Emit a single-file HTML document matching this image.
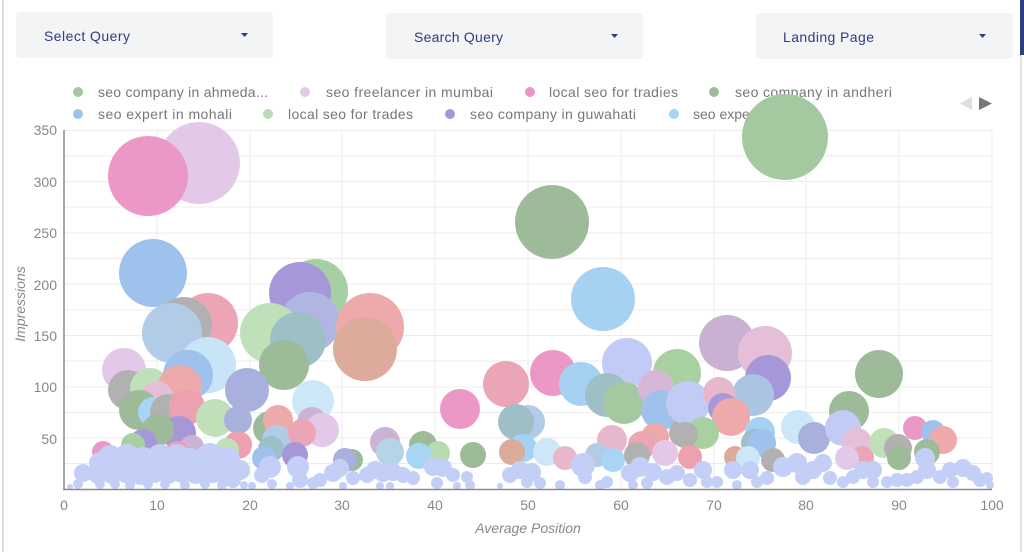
<!DOCTYPE html>
<html><head><meta charset="utf-8"><style>
html,body{margin:0;padding:0;background:#fff;width:1024px;height:552px;overflow:hidden;font-family:"Liberation Sans",sans-serif;}
svg{position:absolute;left:0;top:0;}
</style></head><body>
<svg width="1024" height="552" viewBox="0 0 1024 552" xmlns="http://www.w3.org/2000/svg" font-family="Liberation Sans, sans-serif">
<rect x="0" y="0" width="1024" height="552" fill="#fff"/>
<line x1="3" y1="0" x2="3" y2="552" stroke="#dcdcdc" stroke-width="2"/>
<line x1="1021" y1="55" x2="1021" y2="552" stroke="#e2e2e2" stroke-width="2"/>
<rect x="1020" y="0" width="4" height="55" fill="#2e3d80"/>
<!-- dropdowns -->
<rect x="16" y="12" width="257" height="46" rx="4" fill="#f3f4f6"/>
<rect x="386" y="13" width="257" height="46" rx="4" fill="#f3f4f6"/>
<rect x="756" y="13" width="257" height="46" rx="4" fill="#f3f4f6"/>
<g fill="#2e3d80" font-size="14">
<text x="44" y="41" textLength="86">Select Query</text>
<text x="414" y="42" textLength="89">Search Query</text>
<text x="783" y="42" textLength="91">Landing Page</text>
<path d="M241 33 h7 l-3.5 4z"/><path d="M611 34 h7 l-3.5 4z"/><path d="M979 34 h7 l-3.5 4z"/>
</g>
<!-- gridlines -->
<g stroke="#ececec" stroke-width="1">
<line x1="64" y1="130.5" x2="992" y2="130.5"/><line x1="64" y1="156" x2="992" y2="156"/><line x1="64" y1="181.5" x2="992" y2="181.5"/><line x1="64" y1="207" x2="992" y2="207"/><line x1="64" y1="233" x2="992" y2="233"/><line x1="64" y1="258.5" x2="992" y2="258.5"/><line x1="64" y1="284" x2="992" y2="284"/><line x1="64" y1="310" x2="992" y2="310"/><line x1="64" y1="335.5" x2="992" y2="335.5"/><line x1="64" y1="361" x2="992" y2="361"/><line x1="64" y1="387" x2="992" y2="387"/><line x1="64" y1="412.5" x2="992" y2="412.5"/><line x1="64" y1="438" x2="992" y2="438"/><line x1="64" y1="463.5" x2="992" y2="463.5"/>
<line x1="157" y1="130" x2="157" y2="489"/><line x1="250" y1="130" x2="250" y2="489"/><line x1="342" y1="130" x2="342" y2="489"/><line x1="435" y1="130" x2="435" y2="489"/><line x1="528" y1="130" x2="528" y2="489"/><line x1="621" y1="130" x2="621" y2="489"/><line x1="714" y1="130" x2="714" y2="489"/><line x1="806" y1="130" x2="806" y2="489"/><line x1="899" y1="130" x2="899" y2="489"/><line x1="992" y1="130" x2="992" y2="489"/>
</g>
<!-- legend -->
<g font-size="14" fill="#777">
<circle cx="78" cy="92" r="5" fill="#a4c9a1"/><text x="98" y="97" textLength="170">seo company in ahmeda...</text>
<circle cx="305" cy="92" r="5" fill="#e3c9e8"/><text x="326" y="97" textLength="167">seo freelancer in mumbai</text>
<circle cx="530" cy="92" r="5" fill="#ec95c4"/><text x="549" y="97" textLength="129">local seo for tradies</text>
<circle cx="714" cy="92" r="5" fill="#9dbb99"/><text x="735" y="97" textLength="157">seo company in andheri</text>
<circle cx="78" cy="114" r="5" fill="#9fc2ec"/><text x="98" y="119" textLength="134">seo expert in mohali</text>
<circle cx="268" cy="114" r="5" fill="#b9deb3"/><text x="288" y="119" textLength="125">local seo for trades</text>
<circle cx="450" cy="114" r="5" fill="#a698d8"/><text x="470" y="119" textLength="166">seo company in guwahati</text>
<circle cx="674" cy="114" r="5" fill="#a8d4f4"/><text x="693" y="119">seo expert in delhi</text>
</g>
<path d="M972 97 L960 103.5 L972 110z" fill="#dedede"/>
<path d="M979 97 L992 103.5 L979 110z" fill="#777"/>
<!-- bubbles -->
<g>
<circle cx="199" cy="163" r="41" fill="#e3c9e8"/>
<circle cx="148" cy="176" r="40" fill="#ec98c6"/>
<circle cx="785" cy="137" r="43" fill="#a4c9a1"/>
<circle cx="552" cy="222" r="37" fill="#9fba9b"/>
<circle cx="603" cy="299" r="32" fill="#a5d2f3"/>
<circle cx="153" cy="273" r="34" fill="#9fc2ec"/>
<circle cx="316" cy="291" r="32" fill="#a8cea3"/>
<circle cx="300" cy="293" r="31" fill="#a698d8"/>
<circle cx="310" cy="322" r="30" fill="#b0b6e2"/>
<circle cx="370" cy="327" r="34" fill="#eeaaaa"/>
<circle cx="365" cy="349" r="32" fill="#dcab9b"/>
<circle cx="208" cy="323" r="30" fill="#eca5b5"/>
<circle cx="184" cy="325" r="28" fill="#b1b1b1"/>
<circle cx="172" cy="333" r="30" fill="#b2cce8"/>
<circle cx="270" cy="333" r="30" fill="#bfe0b9"/>
<circle cx="298" cy="340" r="28" fill="#9dbfc6"/>
<circle cx="284" cy="365" r="25" fill="#9dbb99"/>
<circle cx="208" cy="365" r="28" fill="#c8e4f7"/>
<circle cx="188" cy="375" r="25" fill="#9fc2ec"/>
<circle cx="124" cy="370" r="22" fill="#e3c9e8"/>
<circle cx="128" cy="390" r="20" fill="#b1b1b1"/>
<circle cx="150" cy="388" r="20" fill="#bfe0b9"/>
<circle cx="180" cy="387" r="22" fill="#eeaaaa"/>
<circle cx="247" cy="390" r="22" fill="#a8b0dd"/>
<circle cx="313" cy="401" r="21" fill="#cce7f8"/>
<circle cx="312" cy="422" r="15" fill="#cbb3d6"/>
<circle cx="322" cy="430" r="17" fill="#e3c9e8"/>
<circle cx="157" cy="397" r="16" fill="#e5bfd9"/>
<circle cx="139" cy="410" r="20" fill="#9dbb99"/>
<circle cx="153" cy="412" r="15" fill="#a9d5f5"/>
<circle cx="168" cy="412" r="18" fill="#b1b1b1"/>
<circle cx="187" cy="407" r="18" fill="#eda0b0"/>
<circle cx="215" cy="418" r="19" fill="#bfe0b9"/>
<circle cx="238" cy="420" r="14" fill="#a8b0dd"/>
<circle cx="270" cy="428" r="17" fill="#9dbb99"/>
<circle cx="278" cy="420" r="15" fill="#eeaaaa"/>
<circle cx="277" cy="440" r="15" fill="#b2cce8"/>
<circle cx="302" cy="433" r="14" fill="#eca5b5"/>
<circle cx="179" cy="433" r="17" fill="#a698d8"/>
<circle cx="158" cy="430" r="16" fill="#9dbb99"/>
<circle cx="143" cy="443" r="14" fill="#a698d8"/>
<circle cx="133" cy="445" r="12" fill="#a8d0a0"/>
<circle cx="103" cy="452" r="11" fill="#ec98c6"/>
<circle cx="192" cy="447" r="12" fill="#cbb3d6"/>
<circle cx="177" cy="453" r="12" fill="#eda0b0"/>
<circle cx="238" cy="445" r="14" fill="#eda0b0"/>
<circle cx="227" cy="450" r="12" fill="#bfe0b9"/>
<circle cx="271" cy="449" r="13" fill="#9dbfc6"/>
<circle cx="295" cy="455" r="13" fill="#a698d8"/>
<circle cx="264" cy="458" r="12" fill="#9fc2ec"/>
<!-- middle -->
<circle cx="460" cy="409" r="20" fill="#ec98c6"/>
<circle cx="506" cy="384" r="23" fill="#eaa5b6"/>
<circle cx="553" cy="373" r="23" fill="#ec98c6"/>
<circle cx="581" cy="384" r="22" fill="#a5d2f3"/>
<circle cx="627" cy="363" r="25" fill="#c2cbf5"/>
<circle cx="677" cy="373" r="24" fill="#a8d0a0"/>
<circle cx="607" cy="395" r="22" fill="#9dbfc5"/>
<circle cx="624" cy="403" r="21" fill="#a4c9a1"/>
<circle cx="656" cy="388" r="18" fill="#d8b6d8"/>
<circle cx="661" cy="410" r="20" fill="#9fc2ec"/>
<circle cx="528" cy="422" r="17" fill="#b2cce8"/>
<circle cx="516" cy="422" r="18" fill="#9dbfc5"/>
<circle cx="523" cy="448" r="14" fill="#a5d2f3"/>
<circle cx="512" cy="452" r="13" fill="#dcab9b"/>
<circle cx="547" cy="452" r="14" fill="#cce7f8"/>
<circle cx="565" cy="458" r="12" fill="#e7b8cc"/>
<circle cx="385" cy="442" r="15" fill="#cbb3d6"/>
<circle cx="390" cy="452" r="14" fill="#b5d4e8"/>
<circle cx="423" cy="445" r="14" fill="#9dbb99"/>
<circle cx="438" cy="453" r="12" fill="#b7dbb0"/>
<circle cx="419" cy="456" r="13" fill="#a9d5f5"/>
<circle cx="473" cy="455" r="13" fill="#9dbb99"/>
<circle cx="352" cy="460" r="11" fill="#9dbb99"/>
<circle cx="345" cy="460" r="12" fill="#a8b0dd"/>
<circle cx="612" cy="440" r="15" fill="#e7b8cc"/>
<circle cx="597" cy="455" r="12" fill="#b2cce8"/>
<circle cx="613" cy="460" r="12" fill="#a9d5f5"/>
<circle cx="655" cy="437" r="14" fill="#eeaaaa"/>
<circle cx="642" cy="445" r="14" fill="#eca5b5"/>
<circle cx="637" cy="455" r="13" fill="#b1b1b1"/>
<circle cx="665" cy="453" r="13" fill="#e3c9e8"/>
<circle cx="683" cy="433" r="14" fill="#b1b1b1"/>
<!-- right -->
<circle cx="727" cy="343" r="28" fill="#c8b1d3"/>
<circle cx="765" cy="353" r="27" fill="#e5bfd9"/>
<circle cx="688" cy="403" r="22" fill="#c2cbf5"/>
<circle cx="768" cy="378" r="23" fill="#a698d8"/>
<circle cx="753" cy="395" r="21" fill="#aac4e1"/>
<circle cx="719" cy="393" r="16" fill="#e7b8cc"/>
<circle cx="723" cy="408" r="15" fill="#a698d8"/>
<circle cx="731" cy="417" r="19" fill="#eeaaaa"/>
<circle cx="703" cy="433" r="16" fill="#a8d0a0"/>
<circle cx="685" cy="435" r="13" fill="#b1b1b1"/>
<circle cx="690" cy="457" r="12" fill="#eda0b0"/>
<circle cx="760" cy="432" r="15" fill="#a5d2f3"/>
<circle cx="755" cy="443" r="14" fill="#9dbfc5"/>
<circle cx="762" cy="443" r="14" fill="#9fc2ec"/>
<circle cx="735" cy="457" r="11" fill="#dcab9b"/>
<circle cx="748" cy="458" r="12" fill="#cce7f8"/>
<circle cx="773" cy="460" r="12" fill="#b1b1b1"/>
<circle cx="798" cy="427" r="17" fill="#cce7f8"/>
<circle cx="814" cy="438" r="16" fill="#a8b0dd"/>
<circle cx="879" cy="374" r="24" fill="#9dbb99"/>
<circle cx="849" cy="411" r="20" fill="#9dbb99"/>
<circle cx="843" cy="428" r="18" fill="#c2cbf5"/>
<circle cx="857" cy="443" r="15" fill="#e5bfd9"/>
<circle cx="862" cy="458" r="12" fill="#eca5b5"/>
<circle cx="847" cy="458" r="12" fill="#e3c9e8"/>
<circle cx="915" cy="428" r="12" fill="#ec98c6"/>
<circle cx="933" cy="432" r="12" fill="#9fc2ec"/>
<circle cx="943" cy="440" r="14" fill="#eeaaaa"/>
<circle cx="884" cy="443" r="15" fill="#bfe0b9"/>
<circle cx="898" cy="448" r="14" fill="#b1b1b1"/>
<circle cx="899" cy="458" r="12" fill="#9dbb99"/>
<circle cx="927" cy="452" r="13" fill="#9dbb99"/>
</g>
<!-- periwinkle small bubbles -->
<g fill="#c4cff7">
<circle cx="83" cy="473" r="9"/><circle cx="78" cy="484" r="5"/><circle cx="70" cy="487" r="3"/>
<circle cx="100" cy="463" r="11"/><circle cx="110" cy="457" r="12"/><circle cx="127" cy="457" r="13"/><circle cx="143" cy="460" r="13"/><circle cx="160" cy="457" r="13"/><circle cx="177" cy="457" r="13"/><circle cx="190" cy="460" r="12"/><circle cx="210" cy="457" r="14"/><circle cx="227" cy="460" r="13"/><circle cx="240" cy="470" r="10"/>
<circle cx="98" cy="474" r="10"/><circle cx="112" cy="473" r="11"/><circle cx="126" cy="472" r="11"/><circle cx="140" cy="474" r="11"/><circle cx="154" cy="472" r="11"/><circle cx="168" cy="473" r="11"/><circle cx="182" cy="472" r="11"/><circle cx="196" cy="473" r="11"/><circle cx="213" cy="473" r="10"/><circle cx="226" cy="474" r="10"/><circle cx="233" cy="480" r="8"/>
<circle cx="100" cy="484" r="5"/><circle cx="115" cy="484" r="5"/><circle cx="130" cy="485" r="5"/><circle cx="148" cy="484" r="5"/><circle cx="165" cy="484" r="5"/><circle cx="185" cy="485" r="5"/><circle cx="205" cy="484" r="5"/><circle cx="222" cy="485" r="5"/><circle cx="244" cy="485" r="4"/>
<circle cx="252" cy="486" r="4"/><circle cx="262" cy="475" r="8"/><circle cx="270" cy="467" r="11"/><circle cx="272" cy="484" r="5"/>
<circle cx="298" cy="467" r="11"/><circle cx="300" cy="480" r="8"/><circle cx="290" cy="486" r="4"/><circle cx="313" cy="483" r="6"/><circle cx="320" cy="480" r="7"/>
<circle cx="333" cy="473" r="9"/><circle cx="340" cy="468" r="9"/><circle cx="353" cy="478" r="7"/><circle cx="343" cy="486" r="4"/>
<circle cx="367" cy="475" r="8"/><circle cx="375" cy="470" r="9"/><circle cx="383" cy="473" r="9"/><circle cx="380" cy="486" r="4"/><circle cx="390" cy="486" r="4"/>
<circle cx="393" cy="472" r="9"/><circle cx="403" cy="475" r="8"/><circle cx="413" cy="478" r="7"/>
<circle cx="433" cy="467" r="9"/><circle cx="443" cy="468" r="9"/><circle cx="453" cy="475" r="7"/><circle cx="437" cy="483" r="6"/>
<circle cx="467" cy="477" r="6"/><circle cx="470" cy="485" r="5"/><circle cx="457" cy="486" r="4"/>
<circle cx="500" cy="486" r="3"/><circle cx="510" cy="475" r="8"/><circle cx="520" cy="470" r="9"/><circle cx="532" cy="472" r="9"/><circle cx="527" cy="482" r="6"/>
<circle cx="533" cy="472" r="8"/><circle cx="540" cy="483" r="6"/><circle cx="560" cy="485" r="5"/><circle cx="585" cy="477" r="7"/><circle cx="583" cy="465" r="12"/>
<circle cx="607" cy="482" r="6"/><circle cx="600" cy="485" r="5"/>
<circle cx="630" cy="473" r="9"/><circle cx="640" cy="467" r="10"/><circle cx="653" cy="472" r="9"/><circle cx="647" cy="483" r="6"/><circle cx="633" cy="485" r="5"/>
<circle cx="667" cy="477" r="8"/><circle cx="677" cy="473" r="8"/><circle cx="690" cy="480" r="7"/><circle cx="703" cy="470" r="9"/><circle cx="707" cy="482" r="6"/><circle cx="717" cy="482" r="6"/>
<circle cx="733" cy="470" r="9"/><circle cx="737" cy="485" r="5"/><circle cx="750" cy="470" r="9"/><circle cx="757" cy="482" r="6"/><circle cx="767" cy="478" r="7"/>
<circle cx="783" cy="467" r="10"/><circle cx="797" cy="463" r="10"/><circle cx="803" cy="477" r="8"/><circle cx="813" cy="470" r="9"/><circle cx="823" cy="463" r="9"/><circle cx="830" cy="478" r="7"/>
<circle cx="843" cy="482" r="6"/><circle cx="853" cy="477" r="7"/><circle cx="863" cy="470" r="9"/><circle cx="873" cy="470" r="9"/><circle cx="873" cy="482" r="6"/><circle cx="887" cy="482" r="6"/>
<circle cx="897" cy="480" r="7"/><circle cx="907" cy="480" r="7"/><circle cx="917" cy="477" r="7"/><circle cx="925" cy="458" r="10"/><circle cx="927" cy="470" r="9"/>
<circle cx="940" cy="477" r="7"/><circle cx="950" cy="470" r="8"/><circle cx="953" cy="482" r="6"/><circle cx="963" cy="468" r="9"/><circle cx="973" cy="473" r="8"/><circle cx="980" cy="480" r="7"/><circle cx="987" cy="478" r="6"/><circle cx="990" cy="485" r="4"/>
</g>
<!-- axes -->
<line x1="64" y1="130" x2="64" y2="489.5" stroke="#8a8a8a" stroke-width="1.5"/>
<line x1="63" y1="489.5" x2="992" y2="489.5" stroke="#8a8a8a" stroke-width="1.5"/>
<g font-size="14" fill="#888" text-anchor="end">
<text x="57" y="135">350</text><text x="57" y="187">300</text><text x="57" y="238">250</text><text x="57" y="290">200</text><text x="57" y="341">150</text><text x="57" y="392">100</text><text x="57" y="444">50</text>
</g>
<g font-size="14" fill="#888" text-anchor="middle">
<text x="64" y="510">0</text><text x="157" y="510">10</text><text x="250" y="510">20</text><text x="342" y="510">30</text><text x="435" y="510">40</text><text x="528" y="510">50</text><text x="621" y="510">60</text><text x="714" y="510">70</text><text x="806" y="510">80</text><text x="899" y="510">90</text><text x="992" y="510">100</text>
</g>
<text x="528" y="533" font-size="14" fill="#888" font-style="italic" text-anchor="middle">Average Position</text>
<text x="0" y="0" font-size="14" fill="#888" font-style="italic" text-anchor="middle" transform="translate(25,304) rotate(-90)">Impressions</text>
</svg>
</body></html>
